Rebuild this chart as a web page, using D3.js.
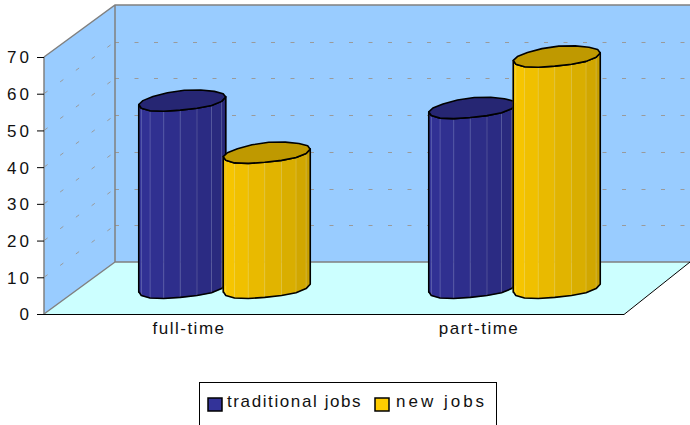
<!DOCTYPE html>
<html><head><meta charset="utf-8">
<script src="https://cdnjs.cloudflare.com/ajax/libs/d3/7.8.5/d3.min.js"></script>
<style>html,body{margin:0;padding:0;background:#fff;overflow:hidden}svg{display:block}
text{font-family:"Liberation Sans",Arial,sans-serif;fill:#111}</style></head><body>
<svg id="c" width="690" height="425"></svg>
<script>
const categories = ["full-time","part-time"];
const seriesNames = ["traditional jobs","new jobs"];
const traditionalJobs = [51,49];
const newJobs = [36.8,63];
const yTicks = [0,10,20,30,40,50,60,70];
const gridTicks = [10,20,30,40,50,60];
const palette = {
  "traditional jobs":{light:"#333399",dark:"#262673",cap:"#262673"},
  "new jobs":{light:"#FFCC00",dark:"#BF9900",cap:"#BF9900"}
};
const depth = {x:71,y:-52};
const W=690;
const svg=d3.select("#c");
const y=d3.scaleLinear().domain([0,70]).range([314,57]);
const x=d3.scaleBand().domain(categories).range([44,624]);
const inner=d3.scaleBand().domain(seriesNames).range([-84.5,84.5]);
const bx=y(70)+depth.y, by=y(0)+depth.y, rx=44+depth.x;

// walls & floor
svg.append("polygon").attr("points",[[44,y(0)],[rx,by],[W,by],[W,bx],[rx,bx],[44,y(70)]].join(" ")).attr("fill","#99CCFF");
svg.append("polygon").attr("points",[[44,y(0)],[rx,by],[W,by],[624,y(0)]].join(" ")).attr("fill","#CCFFFF");

// grid
const gridG=svg.append("g").attr("stroke","#9a9a9a").attr("stroke-width",1).attr("fill","none");
gridG.selectAll(".b").data(gridTicks).join("line").attr("x1",rx).attr("x2",W)
  .attr("y1",d=>Math.round(y(d)+depth.y)+.5).attr("y2",d=>Math.round(y(d)+depth.y)+.5).attr("stroke-dasharray","4 15.5");
gridG.selectAll(".s").data(gridTicks).join("line").attr("x1",44).attr("x2",rx)
  .attr("y1",d=>y(d)).attr("y2",d=>y(d)+depth.y).attr("stroke-dasharray","4 15.5").attr("stroke-dashoffset",-20);

// wall borders
const border=svg.append("g").attr("stroke","#808080").attr("stroke-width",1.5).attr("fill","none");
border.append("path").attr("d",`M44,${y(70)}L${rx},${bx}L${W},${bx}M${rx},${bx}L${rx},${by}L${W},${by}M44,${y(0)}L${rx},${by}`);
border.append("path").attr("d",`M44,${y(0)}L44,${y(70)}`);

// front floor edge
svg.append("path").attr("d",`M44,${y(0)+.5}L624,${y(0)+.5}L${W},${by}`).attr("fill","none").attr("stroke","#000").attr("stroke-width",1);

// y axis
const axisG=svg.append("g").attr("transform","translate(44,0)").call(d3.axisLeft(y).tickValues(yTicks).tickSize(7).tickPadding(5));
axisG.select(".domain").remove();
axisG.selectAll("line").attr("stroke","#000").attr("stroke-width",1);
axisG.selectAll("text").attr("font-family",'"Liberation Sans"').attr("font-size",17).attr("letter-spacing",3).attr("fill","#111").attr("dy","0.35em");

// x labels
const xAxis=svg.append("g").attr("transform","translate(0,314)").call(d3.axisBottom(x).tickSize(0).tickPadding(8));
xAxis.select(".domain").remove();
xAxis.selectAll("text").attr("font-family",'"Liberation Sans"').attr("font-size",17).attr("letter-spacing",1.5).attr("fill","#111");

// cylinders
const a=43.5, b=9.8, skew=-4.2, facets=16;
function ring(cx,cy){
  return d3.range(facets).map(i=>{
    const t=(i+0.12)/facets*2*Math.PI;
    const w=1+0.06*Math.sin(3*t);
    return [cx+a*Math.cos(t), cy+(b*w)*Math.sin(t)+skew*Math.cos(t)];
  });
}
function drawCyl(g,cat,ser,val){
  const cx=x(cat)+x.bandwidth()/2+depth.x/2+inner(ser)+inner.bandwidth()/2;
  const base=y(0)+depth.y/2, top=y(val)+depth.y/2;
  const col=palette[ser];
  const shade=d3.scaleLinear().domain([0,1]).range([col.light,col.dark]).interpolate(d3.interpolateRgb);
  const topR=ring(cx,top), baseR=ring(cx,base);
  const front=d3.range(0,facets/2+1);
  const left=[cx-a,top+4.2], right=[cx+a,top-4.2], leftB=[cx-a,base+4.2], rightB=[cx+a,base-4.2];
  const outer=[rightB,...front.map(i=>baseR[i]),leftB,left,...front.slice().reverse().map(i=>topR[i]),right];
  const n=front.length-1;
  const edgesTop=[right,...front.map(i=>topR[i]),left];
  const edgesBase=[rightB,...front.map(i=>baseR[i]),leftB];
  const m=edgesTop.length-1;
  for(let k=0;k<m;k++){
    const i=m-k, j=i-1;
    const c=shade(Math.pow(k/(m-1),1.3));
    g.append("polygon").attr("points",[edgesBase[i],edgesBase[j],edgesTop[j],edgesTop[i]].join(" "))
      .attr("fill",c).attr("stroke",c).attr("stroke-width",.5);
    if(k>0) g.append("line").attr("x1",edgesBase[i][0]).attr("x2",edgesTop[i][0]).attr("y1",edgesBase[i][1]).attr("y2",edgesTop[i][1])
      .attr("stroke","#fff").attr("stroke-opacity",.18).attr("stroke-width",1);
  }
  g.append("polygon").attr("points",outer.join(" ")).attr("fill","none").attr("stroke","#000").attr("stroke-width",1.6).attr("stroke-linejoin","round");
  g.append("polygon").attr("points",[...topR.slice(0,4),...topR.slice(4),].join(" ")).attr("fill",col.cap).attr("stroke","#000").attr("stroke-width",1.6).attr("stroke-linejoin","round");
}
categories.forEach((cat,ci)=>{
  const g=svg.append("g");
  drawCyl(g,cat,seriesNames[0],traditionalJobs[ci]);
  drawCyl(g,cat,seriesNames[1],newJobs[ci]);
});

// legend
const lg=svg.append("g");
lg.append("rect").attr("x",199.5).attr("y",382.5).attr("width",297).attr("height",60).attr("fill","#fff").attr("stroke","#000").attr("stroke-width",1);
const lx=[208,375], tx=[227,396], spacing=[1.6,3];
seriesNames.forEach((s,i)=>{
  lg.append("rect").attr("x",lx[i]).attr("y",398).attr("width",14).attr("height",13).attr("fill",palette[s].light).attr("stroke","#000").attr("stroke-width",1.5);
  lg.append("text").attr("x",tx[i]).attr("y",407).attr("font-size",17).attr("letter-spacing",spacing[i]).text(s);
});
</script></body></html>
